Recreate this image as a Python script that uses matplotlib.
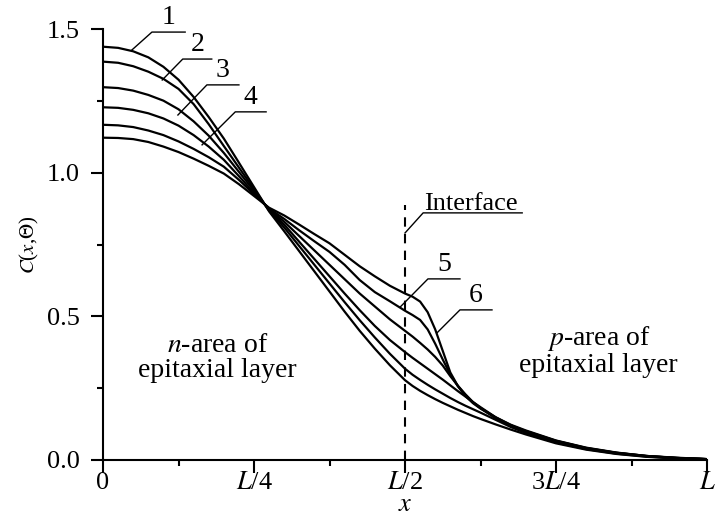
import matplotlib
matplotlib.use("Agg")
import matplotlib.pyplot as plt
from matplotlib.ticker import MultipleLocator

plt.rcParams["font.family"] = ["Liberation Serif", "DejaVu Serif"]
plt.rcParams["mathtext.fontset"] = "stix"

# x positions as fraction of L
x = [0, .025, .05, .075, .1, .125, .15, .175, .2, .225,
     .25, .275, .3, .325, .35, .375, .4, .425, .45, .475,
     .5, .5125, .525, .5375, .55, .5625, .575, .5875, .6, .6125,
     .625, .65, .675, .7, .75, .8, .85, .9, .95, 1.0]

c1 = [1.440, 1.436, 1.424, 1.403, 1.370, 1.325, 1.265, 1.195, 1.120, 1.036,
      0.951, 0.866, 0.797, 0.727, 0.657, 0.587, 0.517, 0.450, 0.388, 0.330,
      0.278, 0.258, 0.241, 0.226, 0.212, 0.199, 0.187, 0.175, 0.164, 0.153,
      0.143, 0.124, 0.106, 0.089, 0.058, 0.036, 0.021, 0.011, 0.005, 0.003]
c2 = [1.388, 1.384, 1.372, 1.353, 1.328, 1.293, 1.240, 1.170, 1.094, 1.019,
      0.944, 0.869, 0.810, 0.745, 0.680, 0.615, 0.550, 0.487, 0.427, 0.370,
      0.318, 0.297, 0.279, 0.262, 0.246, 0.231, 0.216, 0.202, 0.189, 0.177,
      0.165, 0.140, 0.115, 0.094, 0.061, 0.038, 0.022, 0.012, 0.006, 0.003]
c3 = [1.299, 1.296, 1.287, 1.272, 1.252, 1.222, 1.180, 1.130, 1.070, 1.004,
      0.938, 0.871, 0.820, 0.760, 0.700, 0.640, 0.580, 0.522, 0.467, 0.418,
      0.376, 0.356, 0.337, 0.318, 0.299, 0.280, 0.260, 0.240, 0.221, 0.202,
      0.184, 0.149, 0.121, 0.098, 0.064, 0.040, 0.024, 0.013, 0.007, 0.003]
c4 = [1.229, 1.227, 1.220, 1.208, 1.190, 1.165, 1.132, 1.092, 1.046, 0.989,
      0.931, 0.874, 0.830, 0.780, 0.730, 0.680, 0.630, 0.580, 0.535, 0.490,
      0.450, 0.430, 0.408, 0.385, 0.359, 0.329, 0.292, 0.259, 0.229, 0.202,
      0.181, 0.146, 0.119, 0.099, 0.066, 0.041, 0.025, 0.014, 0.007, 0.003]
c5 = [1.168, 1.166, 1.160, 1.148, 1.132, 1.110, 1.084, 1.055, 1.022, 0.976,
      0.926, 0.876, 0.840, 0.800, 0.762, 0.725, 0.680, 0.627, 0.585, 0.553,
      0.520, 0.505, 0.488, 0.455, 0.405, 0.350, 0.298, 0.257, 0.223, 0.198,
      0.179, 0.147, 0.121, 0.101, 0.067, 0.042, 0.025, 0.014, 0.007, 0.003]
c6 = [1.123, 1.122, 1.118, 1.108, 1.092, 1.073, 1.050, 1.025, 0.998, 0.961,
      0.920, 0.879, 0.852, 0.820, 0.787, 0.755, 0.715, 0.675, 0.640, 0.607,
      0.580, 0.569, 0.552, 0.515, 0.455, 0.380, 0.305, 0.258, 0.225, 0.200,
      0.181, 0.149, 0.123, 0.103, 0.068, 0.043, 0.026, 0.014, 0.008, 0.003]
curves = [c1, c2, c3, c4, c5, c6]

x_ticks = [0, 0.25, 0.5, 0.75, 1.0]
x_ticklabels = ["0", "$L$/4", "$L$/2", "3$L$/4", "$L$"]
y_ticks = [0.0, 0.5, 1.0, 1.5]
y_ticklabels = ["0.0", "0.5", "1.0", "1.5"]

# curve labels: (text, tip x, tip y, elbow x, elbow y, end x)
callouts = [
    ("1", 0.048, 1.429, 0.081, 1.491, 0.136),
    ("2", 0.098, 1.324, 0.132, 1.397, 0.180),
    ("3", 0.124, 1.202, 0.172, 1.307, 0.225),
    ("4", 0.164, 1.098, 0.219, 1.213, 0.270),
    ("5", 0.492, 0.533, 0.538, 0.631, 0.591),
    ("6", 0.553, 0.443, 0.591, 0.523, 0.644),
]
interface_x = 0.5
interface_top = 0.89

fig = plt.figure(figsize=(7.27, 5.22), dpi=100)
ax = fig.add_axes([0.1417, 0.1188, 0.8308, 0.8247])

for c in curves:
    ax.plot(x, c, color="black", lw=1.6, solid_joinstyle="round")

ax.plot([interface_x, interface_x], [0, interface_top], color="black",
        lw=1.5, dashes=(4.5, 3.5))

for lab, tx, ty, ex, ey, endx in callouts:
    ax.plot([tx, ex, endx], [ty, ey, ey], color="black", lw=1.0)
    ax.text((ex + endx) / 2, ey + 0.006, lab, ha="center", va="bottom",
            fontsize=20)

# interface label
ax.plot([0.5, 0.53, 0.694], [0.791, 0.861, 0.861], color="black", lw=1.0)
ax.text(0.532, 0.872, "Interface", ha="left", va="baseline", fontsize=19)

ax.text(0.19, 0.355, "$n$-area of\nepitaxial layer", ha="center",
        va="center", fontsize=20, linespacing=1.0)
ax.text(0.82, 0.38, "$p$-area of\nepitaxial layer", ha="center",
        va="center", fontsize=20, linespacing=1.0)

ax.set_xlim(0, 1)
ax.set_ylim(0, 1.5)
ax.set_xticks(x_ticks)
ax.set_xticklabels(x_ticklabels)
ax.set_yticks(y_ticks)
ax.set_yticklabels(y_ticklabels)
ax.xaxis.set_minor_locator(MultipleLocator(0.125))
ax.yaxis.set_minor_locator(MultipleLocator(0.25))
ax.tick_params(which="major", direction="out", length=9, width=1.5,
               labelsize=19, pad=0)
ax.tick_params(which="minor", direction="out", length=4.5, width=1.5)
ax.tick_params(axis="y", pad=8)

for s in ["top", "right"]:
    ax.spines[s].set_visible(False)
for s in ["left", "bottom"]:
    ax.spines[s].set_linewidth(1.5)

ax.set_xlabel("$x$", fontsize=19, labelpad=0)
ax.set_ylabel(r"$C$($x$,$\Theta$)", fontsize=15, labelpad=4)

fig.savefig("out.png", dpi=100)
